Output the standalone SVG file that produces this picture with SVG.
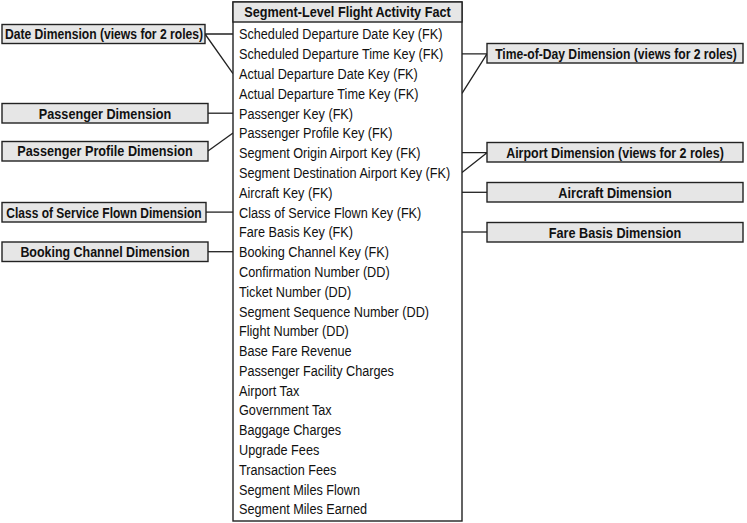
<svg xmlns="http://www.w3.org/2000/svg" width="747" height="523" viewBox="0 0 747 523">
<style>
.box{fill:#e6e6e6;stroke:#222;stroke-width:1.4}
.fact{fill:#fff;stroke:#222;stroke-width:1.4}
.lbl{font-family:"Liberation Sans",Arial,sans-serif;font-size:15px;font-weight:bold;fill:#111;text-anchor:middle}
.row{font-family:"Liberation Sans",Arial,sans-serif;font-size:15px;fill:#111}
.conn{stroke:#222;stroke-width:1.3;fill:none}
</style>
<rect width="747" height="523" fill="#fff"/>
<g id="connectors">
<path class="conn" d="M205,34 H233 M205,34 L233,73.6"/>
<path class="conn" d="M208,113.2 H233"/>
<path class="conn" d="M208,151 L233,133"/>
<path class="conn" d="M206,212.1 H233"/>
<path class="conn" d="M208,251.7 H233"/>
<path class="conn" d="M462,53.8 H487 M487,53.8 L462,93.4"/>
<path class="conn" d="M462,152.7 H487 M487,152.7 L462,172.5"/>
<path class="conn" d="M462,192.3 H487"/>
<path class="conn" d="M462,232 H487"/>
</g>
<g id="fact">
<rect class="fact" x="233" y="2" width="229" height="519"/>
<rect class="box" x="233" y="2" width="229" height="20"/>
<text class="lbl" transform="translate(347.5,0) scale(0.845,1)" x="0" y="17.5">Segment-Level Flight Activity Fact</text>
<g transform="translate(239,0) scale(0.845,1)">
<text class="row" x="0" y="39.5">Scheduled Departure Date Key (FK)</text>
<text class="row" x="0" y="59.3">Scheduled Departure Time Key (FK)</text>
<text class="row" x="0" y="79.1">Actual Departure Date Key (FK)</text>
<text class="row" x="0" y="98.9">Actual Departure Time Key (FK)</text>
<text class="row" x="0" y="118.7">Passenger Key (FK)</text>
<text class="row" x="0" y="138.5">Passenger Profile Key (FK)</text>
<text class="row" x="0" y="158.2">Segment Origin Airport Key (FK)</text>
<text class="row" x="0" y="178">Segment Destination Airport Key (FK)</text>
<text class="row" x="0" y="197.8">Aircraft Key (FK)</text>
<text class="row" x="0" y="217.6">Class of Service Flown Key (FK)</text>
<text class="row" x="0" y="237.4">Fare Basis Key (FK)</text>
<text class="row" x="0" y="257.2">Booking Channel Key (FK)</text>
<text class="row" x="0" y="277">Confirmation Number (DD)</text>
<text class="row" x="0" y="296.8">Ticket Number (DD)</text>
<text class="row" x="0" y="316.6">Segment Sequence Number (DD)</text>
<text class="row" x="0" y="336.4">Flight Number (DD)</text>
<text class="row" x="0" y="356.1">Base Fare Revenue</text>
<text class="row" x="0" y="375.9">Passenger Facility Charges</text>
<text class="row" x="0" y="395.7">Airport Tax</text>
<text class="row" x="0" y="415.5">Government Tax</text>
<text class="row" x="0" y="435.3">Baggage Charges</text>
<text class="row" x="0" y="455.1">Upgrade Fees</text>
<text class="row" x="0" y="474.9">Transaction Fees</text>
<text class="row" x="0" y="494.7">Segment Miles Flown</text>
<text class="row" x="0" y="514.5">Segment Miles Earned</text>
</g>
</g>
<g id="date-dim"><rect class="box" x="2" y="24.5" width="203" height="19"/><text class="lbl" transform="translate(104,0) scale(0.81,1)" x="0" y="39.5">Date Dimension (views for 2 roles)</text></g>
<g id="passenger-dim"><rect class="box" x="2" y="103.5" width="206" height="19.5"/><text class="lbl" transform="translate(105,0) scale(0.845,1)" x="0" y="118.7">Passenger Dimension</text></g>
<g id="passenger-profile-dim"><rect class="box" x="2" y="141.5" width="206" height="19.5"/><text class="lbl" transform="translate(105,0) scale(0.845,1)" x="0" y="156.5">Passenger Profile Dimension</text></g>
<g id="class-of-service-dim"><rect class="box" x="2" y="202.5" width="204" height="19.5"/><text class="lbl" transform="translate(104,0) scale(0.8,1)" x="0" y="217.6">Class of Service Flown Dimension</text></g>
<g id="booking-channel-dim"><rect class="box" x="2" y="242" width="206" height="19.5"/><text class="lbl" transform="translate(105,0) scale(0.83,1)" x="0" y="257.2">Booking Channel Dimension</text></g>
<g id="time-of-day-dim"><rect class="box" x="487" y="43.5" width="256" height="19.5"/><text class="lbl" transform="translate(616,0) scale(0.81,1)" x="0" y="59">Time-of-Day Dimension (views for 2 roles)</text></g>
<g id="airport-dim"><rect class="box" x="487" y="142.5" width="256" height="19.5"/><text class="lbl" transform="translate(615,0) scale(0.83,1)" x="0" y="158">Airport Dimension (views for 2 roles)</text></g>
<g id="aircraft-dim"><rect class="box" x="487" y="182.5" width="256" height="19.5"/><text class="lbl" transform="translate(615,0) scale(0.845,1)" x="0" y="198">Aircraft Dimension</text></g>
<g id="fare-basis-dim"><rect class="box" x="487" y="222.5" width="256" height="19.5"/><text class="lbl" transform="translate(615,0) scale(0.845,1)" x="0" y="237.7">Fare Basis Dimension</text></g>
</svg>
